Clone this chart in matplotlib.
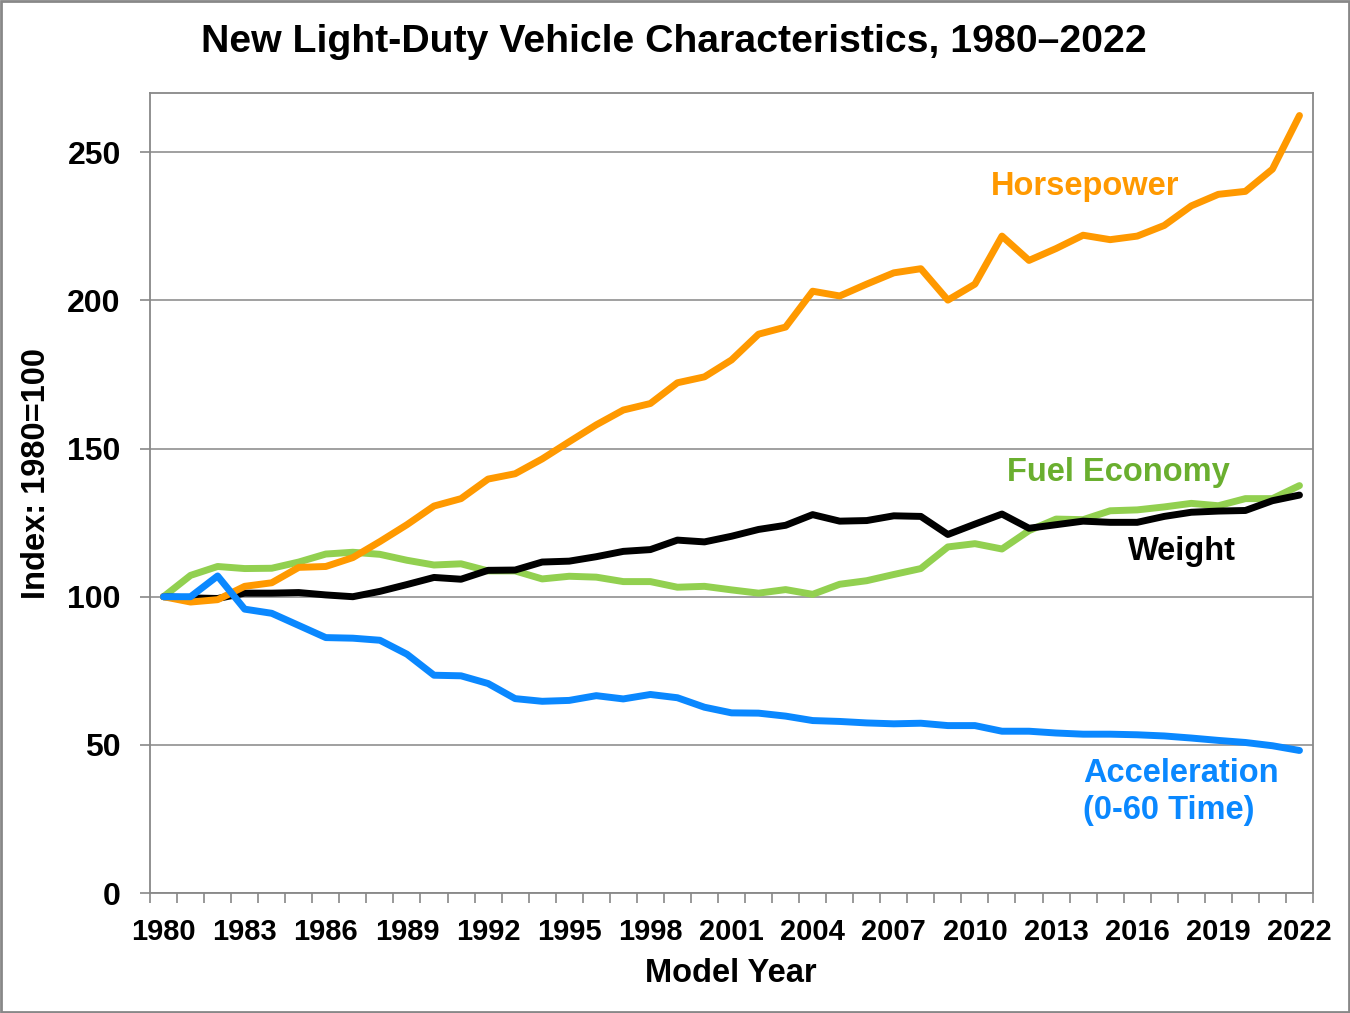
import numpy as np
import matplotlib
matplotlib.use("Agg")
import matplotlib.pyplot as plt
from matplotlib.patches import Rectangle

plt.rcParams["font.family"] = ["Liberation Sans", "DejaVu Sans"]
plt.rcParams["font.weight"] = "bold"

years = list(range(1980, 2023))

horsepower = [100, 98.2, 99.0, 103.5, 104.7, 109.9, 110.2, 113.2, 118.6, 124.3,
              130.6, 133.1, 139.7, 141.5, 146.5, 152.3, 158.0, 163.0, 165.2, 172.2,
              174.2, 179.9, 188.6, 191.0, 203.1, 201.5, 205.5, 209.3, 210.7, 200.1,
              205.5, 221.7, 213.5, 217.5, 222.0, 220.5, 221.7, 225.3, 231.9, 235.8,
              236.8, 244.3, 262.4]

fuel_economy = [100, 107.2, 110.2, 109.5, 109.6, 111.7, 114.4, 115.0, 114.3, 112.3,
                110.7, 111.1, 108.7, 108.7, 106.0, 106.9, 106.6, 105.1, 105.1, 103.2,
                103.5, 102.3, 101.2, 102.4, 100.8, 104.2, 105.4, 107.5, 109.5, 116.8,
                117.9, 116.1, 122.3, 126.2, 126.0, 129.0, 129.3, 130.3, 131.5, 130.7,
                133.1, 133.1, 137.5]

weight = [100, 99.6, 99.4, 101.2, 101.2, 101.4, 100.6, 100.0, 101.8, 104.1,
          106.5, 105.9, 108.9, 109.0, 111.7, 112.0, 113.5, 115.3, 115.9, 119.1,
          118.5, 120.4, 122.7, 124.1, 127.7, 125.5, 125.7, 127.3, 127.1, 121.0,
          124.5, 127.9, 123.1, 124.3, 125.5, 125.1, 125.1, 127.1, 128.5, 128.9,
          129.1, 132.4, 134.3]

acceleration = [100, 100, 107.0, 95.8, 94.4, 90.3, 86.2, 86.0, 85.3, 80.6,
                73.5, 73.3, 70.7, 65.6, 64.7, 65.0, 66.6, 65.5, 67.0, 65.9,
                62.7, 60.8, 60.7, 59.7, 58.2, 57.9, 57.4, 57.1, 57.3, 56.5,
                56.5, 54.6, 54.6, 54.0, 53.6, 53.6, 53.4, 53.0, 52.3, 51.5,
                50.8, 49.7, 48.1]

ORANGE = "#FF9900"
GREEN = "#92D050"
GREEN_TXT = "#6AAF2F"
BLUE = "#0A88FF"
GRIDC = "#999999"

fig = plt.figure(figsize=(13.5, 10.13), dpi=100)
ax = fig.add_axes([150 / 1350, 1 - 893 / 1013, 1163 / 1350, 800 / 1013])

ax.plot(years, fuel_economy, color=GREEN, lw=5, solid_capstyle="round", zorder=3)
ax.plot(years, weight, color="black", lw=5, solid_capstyle="round", zorder=4)
ax.plot(years, horsepower, color=ORANGE, lw=5, solid_capstyle="round", zorder=5)
ax.plot(years, acceleration, color=BLUE, lw=5, solid_capstyle="round", zorder=6)

ax.set_xlim(1979.5, 2022.5)
ax.set_ylim(0, 270)
ax.set_yticks([0, 50, 100, 150, 200, 250])
ax.yaxis.grid(True, color=GRIDC, lw=1.3)
ax.set_axisbelow(True)

ax.set_xticks(years[::3])
ax.set_xticks(np.arange(1979.5, 2023, 1), minor=True)
ax.tick_params(axis="x", which="major", length=0, pad=18, labelsize=21)
ax.tick_params(axis="x", which="minor", length=7, width=1.2, color="#888888")
ax.tick_params(axis="y", length=7, width=1.2, color="#888888", labelsize=23, pad=14)
for lab in ax.get_xticklabels() + ax.get_yticklabels():
    lab.set_fontweight("bold")

for sp in ax.spines.values():
    sp.set_edgecolor("#888888")
    sp.set_linewidth(1.3)

ax.set_xlabel("Model Year", fontsize=23.5, fontweight="bold", va="center")
ax.xaxis.set_label_coords(0.4996, -0.1005)
ax.set_ylabel("Index: 1980=100", fontsize=23.5, fontweight="bold", va="center")
ax.yaxis.set_label_coords(-0.0972, 0.524)
fig.text(0.499, 1 - 42 / 1013, "New Light-Duty Vehicle Characteristics, 1980\u20132022",
         ha="center", va="center", fontsize=28.3, fontweight="bold")

ax.text(2014.06, 238.5, "Horsepower", color=ORANGE, fontsize=23.5, fontweight="bold", ha="center", va="center")
ax.text(2011.2, 142.0, "Fuel Economy", color=GREEN_TXT, fontsize=23.5, fontweight="bold", ha="left", va="center")
ax.text(2015.65, 115.2, "Weight", color="black", fontsize=23.5, fontweight="bold", ha="left", va="center")
ax.text(2014.0, 34.0, "Acceleration\n(0-60 Time)", color=BLUE, fontsize=23.5, fontweight="bold",
        ha="left", va="center", linespacing=1.25)

fig.patches.append(Rectangle((0.001, 0.001), 0.998, 0.998, transform=fig.transFigure,
                             fill=False, edgecolor="#888888", lw=2))

fig.savefig("out.png", dpi=100, facecolor="white")
